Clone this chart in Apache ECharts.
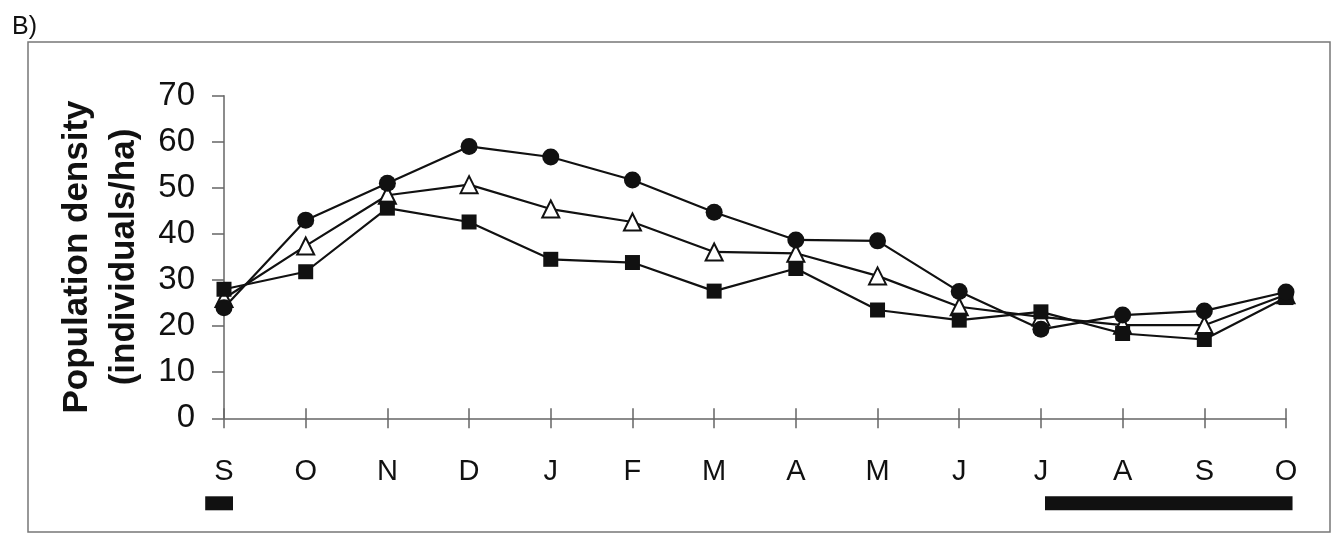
<!DOCTYPE html>
<html>
<head>
<meta charset="utf-8">
<script src="https://cdn.jsdelivr.net/npm/echarts@6/dist/echarts.min.js"></script>
<style>html,body{margin:0;padding:0;background:#fff;}#c{width:1332px;height:533px;}</style>
</head>
<body>
<div id="c"></div>
<script>
var months = ['S','O','N','D','J','F','M','A','M','J','J','A','S','O'];
var circleSeries = [24, 43, 51, 59, 56.7, 51.7, 44.7, 38.7, 38.5, 27.5, 19.3, 22.4, 23.3, 27.4];
var triangleSeries = [26, 37.4, 48.4, 50.7, 45.4, 42.6, 36.1, 35.8, 30.9, 24.2, 22, 20.2, 20.2, 26.8];
var squareSeries = [28, 31.8, 45.6, 42.6, 34.5, 33.8, 27.6, 32.5, 23.5, 21.3, 23.1, 18.4, 17.1, 26.2];
var yTicks = [0, 10, 20, 30, 40, 50, 60, 70];
var periodBars = [[-0.23, 0.11], [10.05, 13.08]];

var chart = echarts.init(document.getElementById('c'), null, {renderer: 'canvas'});
var font = '"Liberation Sans", Arial, sans-serif';
var lineStyle = {color: '#111', width: 2.2};
chart.setOption({
  animation: false,
  backgroundColor: '#fff',
  title: {text: 'B)', left: 7, top: 10, textStyle: {fontFamily: font, fontSize: 25, fontWeight: 'normal', color: '#111'}},
  graphic: [{type: 'rect', shape: {x: 28, y: 42, width: 1302, height: 490}, style: {fill: 'none', stroke: '#777', lineWidth: 1.5}, silent: true}],
  grid: {left: 224, right: 46, top: 95.7, bottom: 114.7},
  xAxis: [{
    type: 'category', data: months, boundaryGap: false,
    axisLine: {lineStyle: {color: '#666', width: 1.5}},
    axisTick: {length: 10, lineStyle: {color: '#666', width: 1.5}},
    axisLabel: {margin: 39, fontFamily: font, fontSize: 29, color: '#111'}
  }, {
    type: 'value', min: 0, max: 13, interval: 1, position: 'bottom',
    axisLine: {show: false}, axisLabel: {show: false}, splitLine: {show: false},
    axisTick: {show: true, inside: true, length: 10, lineStyle: {color: '#666', width: 1.5}}
  }],
  yAxis: {
    type: 'value', min: yTicks[0], max: yTicks[yTicks.length - 1], interval: 10,
    axisLine: {show: true, lineStyle: {color: '#666', width: 1.5}},
    axisTick: {show: true, length: 12, lineStyle: {color: '#666', width: 1.5}},
    splitLine: {show: false},
    axisLabel: {margin: 29, fontFamily: font, fontSize: 33, color: '#111'},
    name: 'Population density\n(individuals/ha)', nameLocation: 'middle', nameGap: 65,
    nameTextStyle: {fontFamily: font, fontSize: 35, fontWeight: 'bold', color: '#111', lineHeight: 47}
  },
  series: [{
    type: 'line', data: triangleSeries, symbol: 'triangle', symbolSize: 17,
    lineStyle: lineStyle, itemStyle: {color: '#fff', borderColor: '#111', borderWidth: 2}, z: 2
  }, {
    type: 'line', data: squareSeries, symbol: 'rect', symbolSize: 15,
    lineStyle: lineStyle, itemStyle: {color: '#111'}, z: 3
  }, {
    type: 'line', data: circleSeries, symbol: 'circle', symbolSize: 17,
    lineStyle: lineStyle, itemStyle: {color: '#111'}, z: 4
  }, {
    type: 'custom', xAxisIndex: 1, yAxisIndex: 0, clip: false, data: periodBars,
    renderItem: function (params, api) {
      var a = api.coord([api.value(0), 0]);
      var b = api.coord([api.value(1), 0]);
      return {type: 'rect', shape: {x: a[0], y: a[1] + 78, width: b[0] - a[0], height: 14}, style: {fill: '#111'}};
    }
  }]
});
</script>
</body>
</html>
